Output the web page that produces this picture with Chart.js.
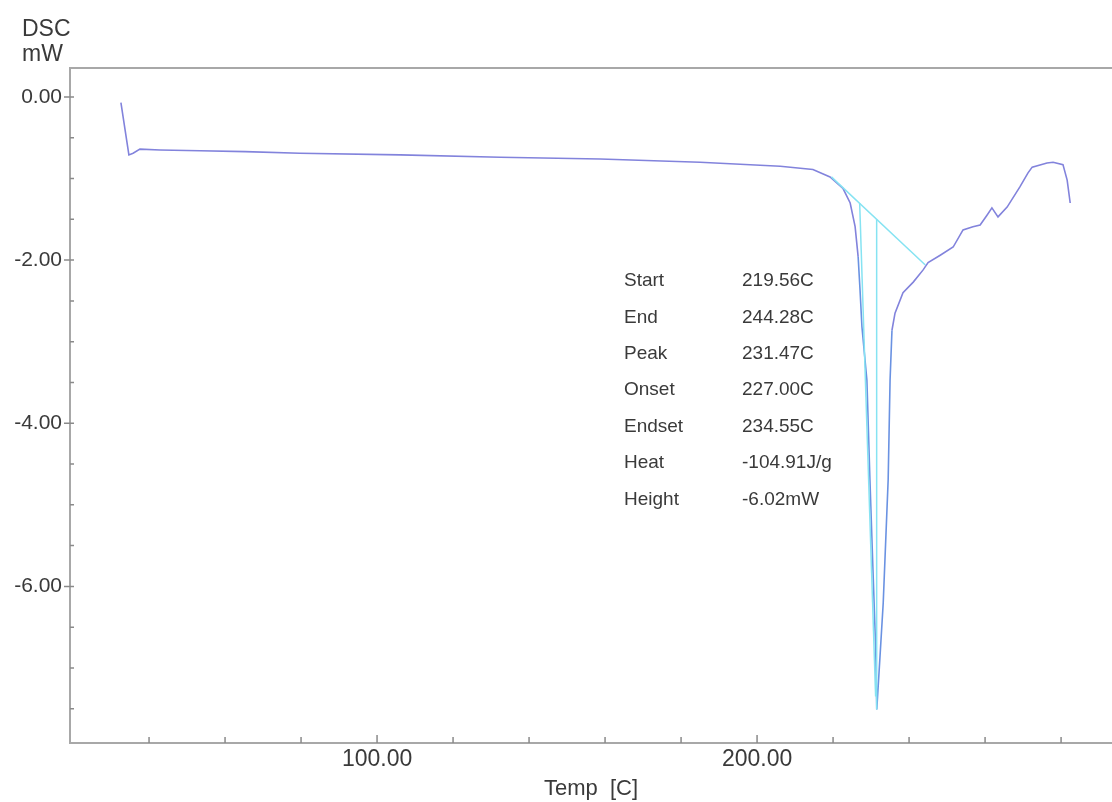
<!DOCTYPE html>
<html>
<head>
<meta charset="utf-8">
<script src="https://cdn.jsdelivr.net/npm/chart.js@4.4.1/dist/chart.umd.min.js"></script>
<style>
  html, body { margin: 0; padding: 0; background: #fff; }
  #wrap { position: relative; width: 1112px; height: 802px; }
</style>
</head>
<body>
<div id="wrap"><canvas id="dscChart"></canvas></div>
<script>
// DSC curve (temperature in C, heat flow in mW)
const tempC = [32.6, 34.7, 35.8, 37.6, 42.9, 53.4, 65.3, 79.7, 106.1, 132.4, 158.7, 185.0,
  206.1, 214.7, 219.2, 222.6, 224.5, 225.8, 226.6, 227.1, 227.6, 228.9, 229.7, 230.5,
  231.2, 231.5, 232.3, 233.2, 234.5, 235.0, 235.5, 236.3, 238.4, 241.1, 243.7, 245.0,
  248.2, 251.6, 254.2, 256.8, 258.7, 260.5, 261.8, 263.4, 265.8, 269.2, 271.3, 272.4,
  276.3, 277.9, 280.5, 281.6, 282.4];
const dscMw = [-0.07, -0.71, -0.69, -0.64, -0.65, -0.66, -0.67, -0.69, -0.71, -0.74, -0.76, -0.80,
  -0.85, -0.89, -0.98, -1.12, -1.30, -1.59, -1.96, -2.37, -2.82, -3.47, -4.69, -5.80,
  -6.74, -7.51, -6.9, -6.2, -4.69, -3.47, -2.86, -2.65, -2.40, -2.27, -2.12, -2.03,
  -1.94, -1.84, -1.63, -1.59, -1.57, -1.45, -1.36, -1.47, -1.35, -1.10, -0.93, -0.86,
  -0.81, -0.80, -0.83, -1.02, -1.30];

// analysis lines (baseline, onset tangent, peak drop)
const baseT = [219.56, 244.28];
const baseV = [-0.98, -2.06];
const onsetT = [227.0, 231.2];
const onsetV = [-1.30, -7.35];
const peakT = [231.47, 231.47];
const peakV = [-1.50, -7.51];

// axis ticks
const xTickValues = [40, 60, 80, 100, 120, 140, 160, 180, 200, 220, 240, 260, 280];
const yTickValues = [0, -0.5, -1, -1.5, -2, -2.5, -3, -3.5, -4, -4.5, -5, -5.5, -6, -6.5, -7, -7.5];

// results table
const resultLabels = ["Start", "End", "Peak", "Onset", "Endset", "Heat", "Height"];
const resultValues = ["219.56C", "244.28C", "231.47C", "227.00C", "234.55C", "-104.91J/g", "-6.02mW"];

const xMin = 19.2, xMax = 293.4;
const yMin = -7.92, yMax = 0.355;

const textColor = "#3a3a3a";
const axisColor = "#a8a8a8";
const fontFam = "'Liberation Sans', Arial, sans-serif";

function pts(xs, ys) {
  return xs.map((x, i) => ({ x: x, y: ys[i] }));
}

function onMultiple(v, step) {
  return Math.abs(v / step - Math.round(v / step)) < 1e-6;
}

const framePlugin = {
  id: "frame",
  afterDraw(chart) {
    const c = chart.ctx;
    const area = chart.chartArea;
    const xs = chart.scales.x, ys = chart.scales.y;
    c.save();
    // top border
    c.strokeStyle = axisColor;
    c.lineWidth = 2;
    c.beginPath();
    c.moveTo(area.left, area.top);
    c.lineTo(area.right, area.top);
    c.stroke();
    // inward ticks
    c.lineWidth = 1.5;
    c.strokeStyle = "#8a8a8a";
    c.beginPath();
    xs.ticks.forEach((t) => {
      const px = xs.getPixelForValue(t.value);
      c.moveTo(px, area.bottom);
      c.lineTo(px, area.bottom - (onMultiple(t.value, 100) ? 8 : 6));
    });
    ys.ticks.forEach((t) => {
      const py = ys.getPixelForValue(t.value);
      const major = onMultiple(t.value, 2);
      c.moveTo(area.left - (major ? 6 : 0), py);
      c.lineTo(area.left + 4, py);
    });
    c.stroke();
    // unit label
    c.fillStyle = textColor;
    c.font = "23px " + fontFam;
    c.textAlign = "left";
    c.textBaseline = "middle";
    c.fillText("DSC", 22, 30);
    c.fillText("mW", 22, 55);
    // results table
    c.font = "19px " + fontFam;
    resultLabels.forEach((lab, i) => {
      const y = 281 + i * 36.4;
      c.fillText(lab, 624, y);
      c.fillText(resultValues[i], 742, y);
    });
    c.restore();
  }
};

new Chart(document.getElementById("dscChart"), {
  type: "line",
  data: {
    datasets: [
      { data: pts(baseT, baseV), borderColor: "#86e3f2", borderWidth: 1.5, pointRadius: 0 },
      { data: pts(onsetT, onsetV), borderColor: "#86e3f2", borderWidth: 1.5, pointRadius: 0 },
      { data: pts(peakT, peakV), borderColor: "#86e3f2", borderWidth: 1.5, pointRadius: 0 },
      {
        data: pts(tempC, dscMw),
        borderColor: "#8283dc",
        borderWidth: 1.6,
        pointRadius: 0,
        tension: 0,
        segment: {
          borderColor: (ctx) => {
            const t = ctx.p0.parsed.x;
            return t > 226.5 && t < 235.2 ? "#6a92e2" : undefined;
          }
        }
      }
    ]
  },
  options: {
    responsive: true,
    maintainAspectRatio: false,
    animation: false,
    layout: { padding: { top: 68, left: 0, right: 0, bottom: 0 } },
    plugins: { legend: { display: false }, tooltip: { enabled: false } },
    scales: {
      x: {
        type: "linear",
        min: xMin,
        max: xMax,
        afterBuildTicks: (s) => { s.ticks = xTickValues.map((v) => ({ value: v })); },
        afterFit: (s) => { s.height = 59; },
        ticks: {
          autoSkip: false,
          maxRotation: 0,
          padding: 3,
          color: textColor,
          font: { family: fontFam, size: 23 },
          callback: (v) => (onMultiple(v, 100) ? v.toFixed(2) : "")
        },
        grid: { drawOnChartArea: false, drawTicks: false },
        border: { color: axisColor, width: 2 },
        title: {
          display: true,
          text: "Temp  [C]",
          color: textColor,
          font: { family: fontFam, size: 22 },
          padding: { top: 0, bottom: 0 }
        }
      },
      y: {
        type: "linear",
        min: yMin,
        max: yMax,
        afterBuildTicks: (s) => { s.ticks = yTickValues.map((v) => ({ value: v })); },
        afterFit: (s) => { s.width = 70; },
        ticks: {
          autoSkip: false,
          padding: 8,
          color: textColor,
          font: { family: fontFam, size: 21 },
          callback: (v) => (onMultiple(v, 2) ? v.toFixed(2) : "")
        },
        grid: { drawOnChartArea: false, drawTicks: false },
        border: { color: axisColor, width: 2 }
      }
    }
  },
  plugins: [framePlugin]
});
</script>
</body>
</html>
